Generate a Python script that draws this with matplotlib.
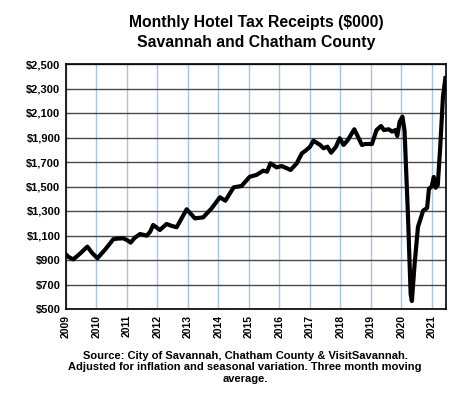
import matplotlib
matplotlib.use("Agg")
import matplotlib.pyplot as plt

title_lines = ["Monthly Hotel Tax Receipts ($000)", "Savannah and Chatham County"]
footer = ("Source: City of Savannah, Chatham County & VisitSavannah.\n"
          "Adjusted for inflation and seasonal variation. Three month moving\n"
          "average.")

years = [2009.0, 2009.08, 2009.24, 2009.45, 2009.7, 2009.85, 2010.03, 2010.3, 2010.55,
         2010.7, 2010.88, 2011.02, 2011.12, 2011.25, 2011.43, 2011.65, 2011.76, 2011.86,
         2012.08, 2012.3, 2012.45, 2012.63, 2012.96, 2013.23, 2013.5, 2013.78, 2014.05,
         2014.23, 2014.5, 2014.76, 2015.03, 2015.25, 2015.47, 2015.6, 2015.71, 2015.91,
         2016.08, 2016.37, 2016.57, 2016.74, 2016.85, 2017.01, 2017.12, 2017.34, 2017.45,
         2017.58, 2017.7, 2017.86, 2017.98, 2018.11, 2018.25, 2018.46, 2018.57, 2018.71,
         2018.82, 2019.04, 2019.19, 2019.34, 2019.43, 2019.59, 2019.7, 2019.81, 2019.87,
         2019.95, 2020.04, 2020.11, 2020.22, 2020.31, 2020.35, 2020.44, 2020.55, 2020.72,
         2020.85, 2020.91, 2021.0, 2021.07, 2021.13, 2021.2, 2021.28, 2021.37, 2021.45]
values = [945, 925, 905, 950, 1009, 960, 914, 990, 1069, 1075, 1077, 1060, 1042, 1080,
          1112, 1099, 1130, 1186, 1145, 1194, 1180, 1167, 1314, 1240, 1248, 1322, 1412,
          1384, 1493, 1504, 1580, 1594, 1629, 1621, 1689, 1656, 1667, 1635, 1689, 1771,
          1790, 1825, 1874, 1839, 1812, 1825, 1776, 1825, 1894, 1839, 1880, 1967, 1912,
          1839, 1847, 1847, 1961, 1994, 1961, 1967, 1948, 1961, 1912, 2029, 2070, 1955,
          1276, 622, 565, 867, 1170, 1303, 1325, 1480, 1500, 1578, 1490, 1510, 1822, 2230,
          2385]

y_ticks = list(range(500, 2501, 200))
y_labels = [f"${v:,}" for v in y_ticks]
x_ticks = list(range(2009, 2022))
x_labels = [str(y) for y in x_ticks]

plt.rcParams['font.family'] = ['Liberation Sans', 'DejaVu Sans']
fig = plt.figure(figsize=(4.65, 3.93), dpi=100)
ax = fig.add_axes([66/465, 1-309/393, (446-66)/465, (309-64)/393])

ax.plot(years, values, color='black', lw=3.0, solid_joinstyle='round', zorder=3)

ax.set_xlim(2009, 2021.47)
ax.set_ylim(500, 2500)
ax.set_yticks(y_ticks)
ax.set_yticklabels(y_labels, fontsize=8, fontweight='bold')
ax.set_xticks(x_ticks)
ax.set_xticklabels(x_labels, fontsize=7.5, fontweight='bold', rotation=90)
ax.tick_params(length=0, pad=4)
ax.grid(axis='y', color='#4a4a4a', lw=1.0, zorder=1)
ax.grid(axis='x', color='#a8c4e8', lw=1.0, zorder=1)
for s in ax.spines.values():
    s.set_linewidth(1.2)
    s.set_color('black')

fig.text(256/465, 1-22/393, title_lines[0], ha='center', va='center', fontsize=11.3, fontweight='bold')
fig.text(256/465, 1-42/393, title_lines[1], ha='center', va='center', fontsize=11.3, fontweight='bold')
fig.text(245/465, 1-367.5/393, footer, ha='center', va='center', fontsize=8,
         fontweight='bold', linespacing=1.15)

fig.savefig("out.png", dpi=100)
